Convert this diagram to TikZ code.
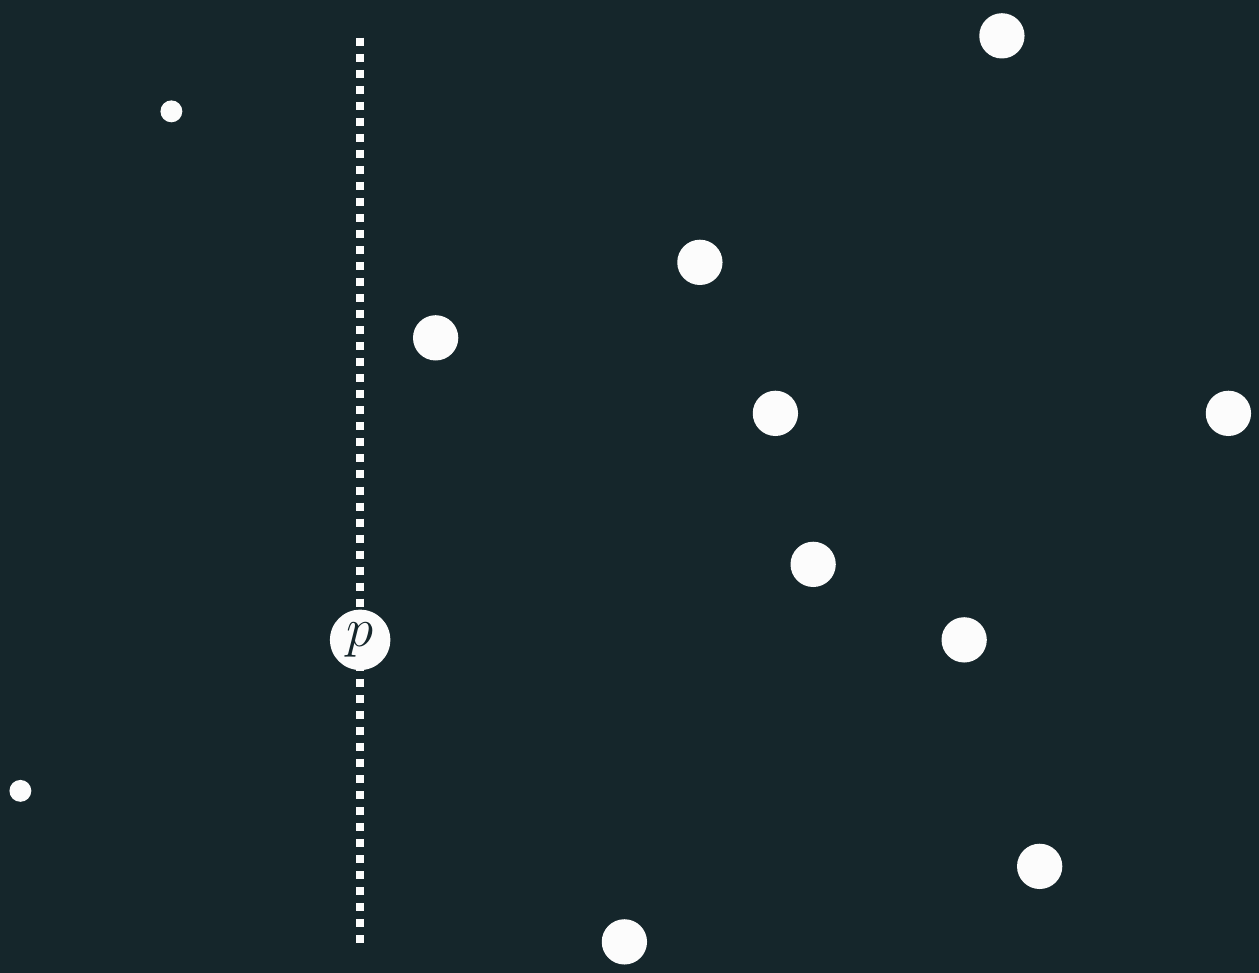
\documentclass[tikz,border=0pt]{standalone}
\usepackage{tikz}

\definecolor{bgdark}{HTML}{15262B}
\definecolor{dotwhite}{HTML}{FCFCFC}

\begin{document}
\begin{tikzpicture}[x=0.5cm, y=0.5cm,
  pt/.style={circle, fill=dotwhite, inner sep=0pt, minimum size=0.6cm},
  smallpt/.style={circle, fill=dotwhite, inner sep=0pt, minimum size=0.29cm},
  sweep/.style={draw=dotwhite, line width=3pt, dash pattern=on 3.02pt off 3.02pt}]
% Background and frame
\fill[bgdark] (-9.54,-8.82) rectangle (23.81,16.95);
\useasboundingbox (-9.54,-8.82) rectangle (23.81,16.95);

% Sweep line through p
\coordinate (top) at (0,15.95);
\coordinate (bot) at (0,-8.1);
\draw[sweep] (top) -- (bot);

% Points already passed (small)
\node[smallpt] (s1) at (-5,14) {};
\node[smallpt] (s2) at (-9,-4) {};

% Points still to come
\node[pt] (q1) at (17,16) {};
\node[pt] (q2) at (9,10) {};
\node[pt] (q3) at (2,8) {};
\node[pt] (q4) at (11,6) {};
\node[pt] (q5) at (23,6) {};
\node[pt] (q6) at (12,2) {};
\node[pt] (q7) at (16,0) {};
\node[pt] (q8) at (18,-6) {};
\node[pt] (q9) at (7,-8) {};

% Current point
\node[circle, fill=dotwhite, inner sep=0pt, minimum size=0.8cm, text=bgdark] (p) at (0,0) {\huge $p$};
\end{tikzpicture}
\end{document}
